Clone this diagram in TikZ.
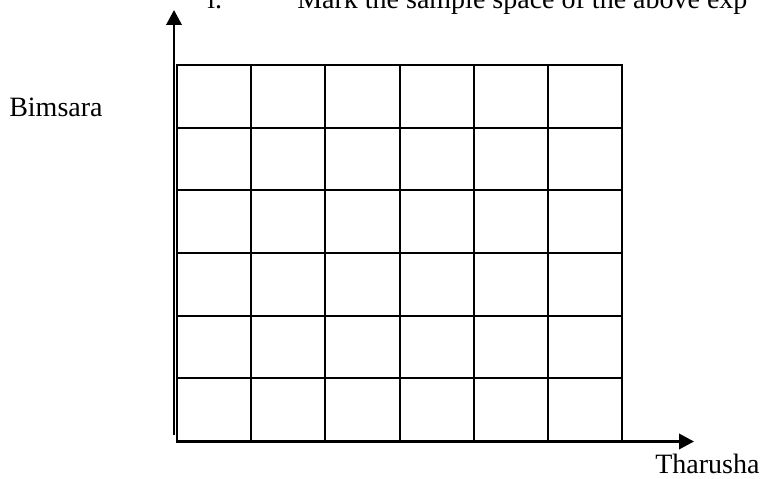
\documentclass[tikz,border=0pt]{standalone}
\usepackage{fontspec}
\setmainfont{Liberation Serif}
\usetikzlibrary{arrows.meta}
\begin{document}
\begin{tikzpicture}[x=0.75pt,y=-0.75pt,
  lbl/.style={anchor=base west, inner sep=0pt, font=\fontsize{21}{25}\selectfont},
  gridline/.style={line width=1.5pt, line cap=rect},
  axis/.style={line width=1.9pt, -{Triangle[length=11.25pt,width=11.5pt]}}]
\useasboundingbox (0,0) rectangle (763,478);
% grid
\foreach \i in {0,...,6}
  \draw[gridline] ({177+\i*74.1667},65) -- ({177+\i*74.1667},441);
\foreach \j in {0,...,6}
  \draw[gridline] (177,{65+\j*62.667}) -- (622,{65+\j*62.667});
% axes
\coordinate (yorig) at (174,435);
\coordinate (ytip) at (174,10);
\coordinate (xorig) at (176,441.5);
\coordinate (xtip) at (694,441.5);
\draw[axis] (yorig) -- (ytip);
\draw[axis] (xorig) -- (xtip);
% labels
\node[lbl] (bim) at (9,116) {Bimsara};
\node[lbl] (tha) at (655,473) {Tharusha};
\node[lbl] (num) at (207,9) {i.};
\node[lbl] (task) at (297,9) {Mark the sample space of the above exp};
\end{tikzpicture}
\end{document}
